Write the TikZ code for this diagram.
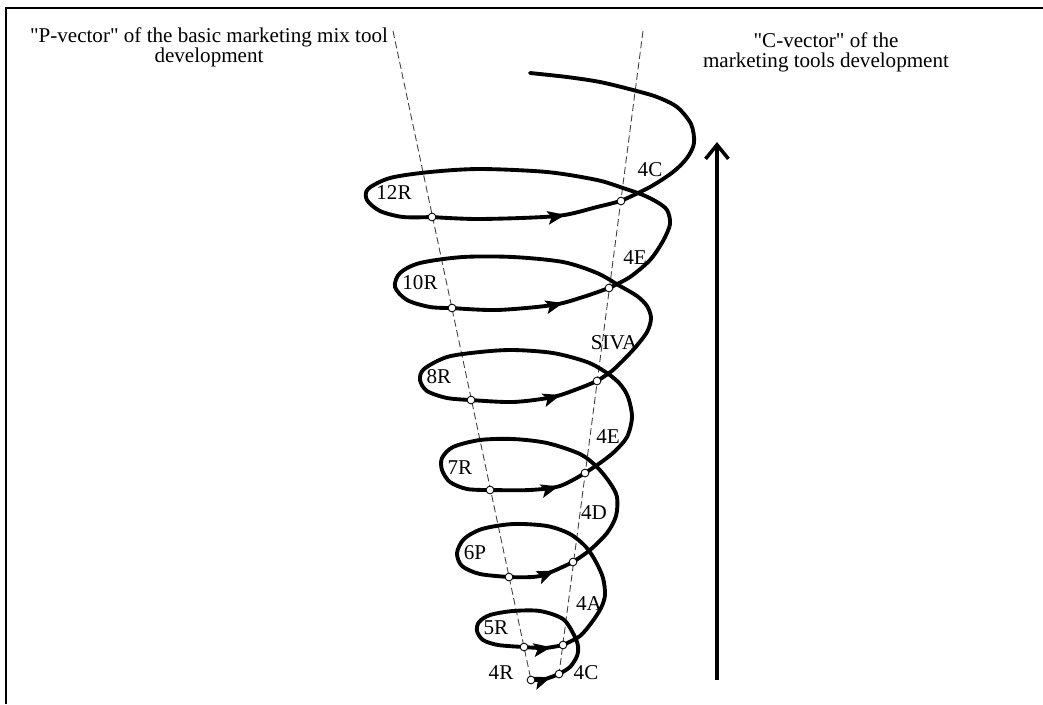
\documentclass[tikz,border=0pt]{standalone}
\usepackage{fontspec}
\setmainfont{Liberation Serif}
\usetikzlibrary{arrows.meta,decorations.markings,backgrounds}

\begin{document}
\begin{tikzpicture}[x=0.02cm,y=-0.02cm,
  >={Stealth[length=10pt,width=7.5pt,inset=2pt]},
  coil/.style={line width=2.2pt,line cap=round,line join=round},
  front/.style={coil,postaction={decorate},
    decoration={markings,mark=at position 0.7 with {\arrow{>}}}},
  axis/.style={black!75,line width=0.5pt,dash pattern=on 4pt off 2pt},
  knot/.style={circle,draw,fill=white,line width=0.5pt,inner sep=0pt,minimum size=4.4pt},
  lbl/.style={font=\fontsize{12}{11.5}\selectfont,inner sep=0pt},
  title/.style={lbl,align=center},
  rise/.style={line width=2pt,-{Straight Barb[length=8pt,width=13pt]}},
  frame/.style={line width=1.2pt}]
\useasboundingbox (0,0) rectangle (1043,704);

% outer frame (only top and left edges are visible)
\draw[frame] (6,704) -- (6,8) -- (1043,8);

% headings
\node[title] (Ptitle) at (209,47) {\textquotedbl P-vector\textquotedbl{} of the basic marketing mix tool\\development};
\node[title] (Ctitle) at (826,52) {\textquotedbl C-vector\textquotedbl{} of the\\marketing tools development};

% points on the P-axis
\node[knot] (p4R) at (531,680) {};
\node[knot] (p5R) at (524,647) {};
\node[knot] (p6P) at (509,577) {};
\node[knot] (p7R) at (490,490) {};
\node[knot] (p8R) at (471,400) {};
\node[knot] (p10R) at (452,308) {};
\node[knot] (p12R) at (432,217) {};
% points on the C-axis
\node[knot] (c4C) at (559,674) {};
\node[knot] (c4A) at (563,645) {};
\node[knot] (c4D) at (573,562) {};
\node[knot] (c4E) at (585,473) {};
\node[knot] (cSIVA) at (597,381) {};
\node[knot] (c4Ehi) at (609,288) {};
\node[knot] (c4Chi) at (621,201) {};

\coordinate (Ptop) at (393,31);
\coordinate (Ctop) at (643,31);

\begin{scope}[on background layer]
\draw[axis] (Ptop) -- (p4R.center);
\draw[axis] (Ctop) -- (c4C.center);

% the coil, turn by turn from the bottom
\draw[front] plot[smooth] coordinates {(p4R.center) (545,679) (c4C.center)};
\draw[coil] plot[smooth] coordinates {(c4C.center) (570,667) (577,656) (578,646) (574,635)
  (563,619) (540,611) (513,611) (490,615) (479,622) (477,631) (483,640) (498,645) (p5R.center)};
\draw[front] plot[smooth] coordinates {(p5R.center) (545,648) (c4A.center)};
\draw[coil] plot[smooth] coordinates {(c4A.center) (580,636) (592,622) (601,608) (605,595)
  (603,578) (596,562) (586,547) (570,534) (547,526) (513,524) (482,529) (464,539) (457,553)
  (462,566) (480,574) (p6P.center)};
\draw[front] plot[smooth] coordinates {(p6P.center) (540,576) (c4D.center)};
\draw[coil] plot[smooth] coordinates {(c4D.center) (590,550) (607,533) (616,516) (617,497)
  (610,483) (597,467) (580,454) (547,443) (513,439) (480,440) (453,447) (442,458) (442,470)
  (450,482) (467,489) (p7R.center)};
\draw[front] plot[smooth] coordinates {(p7R.center) (530,490) (560,486) (c4E.center)};
\draw[coil] plot[smooth] coordinates {(c4E.center) (600,463) (614,452) (627,437) (632,417)
  (628,397) (620,384) (607,373) (587,362) (553,353) (513,350) (480,352) (447,357) (424,369)
  (420,380) (427,391) (447,398) (p8R.center)};
\draw[front] plot[smooth] coordinates {(p8R.center) (513,402) (553,397) (580,388) (cSIVA.center)};
\draw[coil] plot[smooth] coordinates {(cSIVA.center) (613,370) (633,350) (647,332) (651,318)
  (647,306) (637,296) (620,286) (597,273) (563,262) (513,257) (463,257) (420,263) (400,273)
  (395,287) (407,300) (430,307) (p10R.center)};
\draw[front] plot[smooth] coordinates {(p10R.center) (497,310) (553,305) (583,297) (c4Ehi.center)};
\draw[coil] plot[smooth] coordinates {(c4Ehi.center) (630,277) (650,260) (663,241) (670,224)
  (667,210) (657,202) (643,195) (623,188) (597,180) (547,172) (480,169) (430,172) (390,178)
  (368,189) (367,200) (380,211) (403,217) (p12R.center)};
\draw[front] plot[smooth] coordinates {(p12R.center) (480,219) (557,216) (597,207) (c4Chi.center)};
\draw[coil] plot[smooth] coordinates {(c4Chi.center) (650,187) (673,172) (687,158) (694,143)
  (691,124) (677,107) (657,97) (633,90) (600,82) (567,77) (530,73)};
\end{scope}

% labels of the P-axis
\node[lbl] (l4R) at (501,673) {4R};
\node[lbl] (l5R) at (496,628) {5R};
\node[lbl] (l6P) at (475,553) {6P};
\node[lbl] (l7R) at (460,468) {7R};
\node[lbl] (l8R) at (439,377) {8R};
\node[lbl] (l10R) at (420,283) {10R};
\node[lbl] (l12R) at (394,193) {12R};
% labels of the C-axis
\node[lbl] (l4C) at (586,673) {4C};
\node[lbl] (l4A) at (589,604) {4A};
\node[lbl] (l4D) at (594,513) {4D};
\node[lbl] (l4E) at (608,437) {4E};
\node[lbl] (lSIVA) at (614,343) {SIVA};
\node[lbl] (l4Ehi) at (635,258) {4E};
\node[lbl] (l4Chi) at (650,170) {4C};

% growth arrow
\coordinate (base) at (717,680);
\coordinate (tip) at (717,142);
\draw[rise] (base) -- (tip);
\end{tikzpicture}
\end{document}
